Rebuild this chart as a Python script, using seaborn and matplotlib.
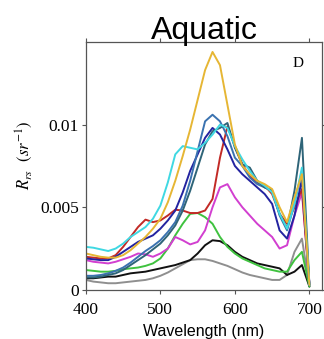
import matplotlib
matplotlib.use("Agg")
import matplotlib.pyplot as plt
import numpy as np
import pandas as pd
import seaborn as sns

sns.set_style("ticks")
plt.rcParams['font.family'] = ['Liberation Serif', 'DejaVu Serif']
plt.rcParams['mathtext.fontset'] = 'stix'
plt.rcParams['text.color'] = 'black'
plt.rcParams['axes.labelcolor'] = 'black'
plt.rcParams['xtick.labelcolor'] = 'black'
plt.rcParams['ytick.labelcolor'] = 'black'

# wavelengths (nm), every 10 nm
wl = list(range(400, 701, 10))

# Rrs spectra, units of 1e-3 sr^-1
yellow = [2.2, 2.1, 2.0, 1.95, 1.95, 2.1, 2.4, 2.8, 3.2, 3.7, 4.3, 5.3, 6.6, 8.1, 9.7, 11.5,
          13.3, 14.4, 13.6, 11.2, 8.8, 7.5, 7.0, 6.6, 6.4, 6.1, 5.0, 4.1, 5.6, 7.0, 0.3]
cyan = [2.6, 2.55, 2.45, 2.35, 2.5, 2.8, 3.2, 3.5, 3.8, 4.3, 5.1, 6.5, 8.2, 8.7, 8.6, 8.5,
        8.9, 9.4, 10.0, 9.8, 8.7, 7.9, 7.2, 6.6, 6.3, 5.9, 4.6, 3.7, 5.2, 7.4, 0.3]
steel = [0.85, 0.85, 0.9, 1.0, 1.15, 1.35, 1.65, 2.0, 2.35, 2.65, 3.0, 3.5, 4.1, 5.1, 6.6, 8.4,
         10.2, 10.6, 10.2, 9.3, 8.0, 7.5, 6.8, 6.4, 6.2, 6.0, 4.5, 3.6, 5.2, 7.2, 0.3]
teal = [0.75, 0.75, 0.8, 0.9, 1.0, 1.2, 1.5, 1.8, 2.1, 2.45, 2.8, 3.3, 3.9, 4.8, 6.0, 7.4,
        8.8, 9.6, 9.8, 10.1, 8.6, 7.6, 7.4, 6.6, 6.2, 6.0, 4.6, 3.7, 6.0, 9.2, 0.3]
navy = [1.9, 1.85, 1.8, 1.8, 2.0, 2.3, 2.6, 2.9, 3.1, 3.3, 3.7, 4.2, 4.8, 5.9, 7.2, 8.2,
        9.2, 9.8, 9.4, 8.5, 7.5, 7.0, 6.6, 6.2, 5.8, 5.2, 3.6, 3.1, 4.5, 6.7, 0.3]
red = [2.0, 1.95, 1.9, 1.9, 2.1, 2.6, 3.2, 3.8, 4.25, 4.1, 4.2, 4.5, 4.85, 4.8, 4.65, 4.65,
       4.8, 5.5, 8.0, 9.9, 8.7, 7.6, 6.9, 6.5, 6.3, 5.8, 4.6, 4.0, 5.0, 6.1, 0.3]
magenta = [1.8, 1.7, 1.65, 1.6, 1.7, 1.85, 2.0, 2.2, 2.15, 2.0, 2.2, 2.5, 3.2, 3.0, 2.75, 2.9,
           3.6, 5.0, 6.2, 6.4, 5.6, 5.0, 4.5, 4.0, 3.6, 3.2, 2.5, 2.7, 4.5, 5.9, 0.4]
green = [1.2, 1.15, 1.1, 1.1, 1.15, 1.25, 1.3, 1.35, 1.45, 1.6, 1.9, 2.5, 3.3, 4.0, 4.6, 4.65,
         4.4, 4.0, 3.2, 2.6, 2.2, 1.9, 1.7, 1.5, 1.3, 1.2, 1.1, 1.1, 1.8, 2.3, 0.2]
black = [0.7, 0.7, 0.75, 0.8, 0.8, 0.9, 1.0, 1.05, 1.1, 1.2, 1.3, 1.4, 1.5, 1.65, 1.8, 2.2,
         2.7, 3.0, 2.95, 2.7, 2.3, 2.0, 1.8, 1.6, 1.5, 1.4, 1.3, 0.9, 1.1, 1.5, 0.2]
gray = [0.6, 0.5, 0.45, 0.4, 0.4, 0.45, 0.5, 0.55, 0.6, 0.7, 0.85, 1.05, 1.3, 1.55, 1.8, 1.85,
        1.85, 1.75, 1.6, 1.45, 1.25, 1.05, 0.9, 0.8, 0.7, 0.6, 0.6, 0.9, 2.3, 3.1, 0.2]

spectra = {"gray": gray, "black": black, "green": green, "magenta": magenta, "red": red,
           "navy": navy, "steel": steel, "teal": teal, "cyan": cyan, "yellow": yellow}
colors = {"gray": "#8f8f8f", "black": "#111111", "green": "#3fc23f", "magenta": "#d23fd0",
          "red": "#c22a26", "navy": "#2323a0", "steel": "#3a72b0", "teal": "#2e6478",
          "cyan": "#3fd8e2", "yellow": "#e6b634"}

rows = []
for name, vals in spectra.items():
    for w, v in zip(wl, vals):
        rows.append({"wl": w, "rrs": v * 1e-3, "station": name})
df = pd.DataFrame(rows)

fig = plt.figure(figsize=(3.24, 3.39), dpi=100)
ax = fig.add_axes([0.265, 0.145, 0.729, 0.731])

sns.lineplot(data=df, x="wl", y="rrs", hue="station", palette=colors,
             linewidth=1.4, legend=False, ax=ax)

ax.set_xlim(400, 717)
ax.set_ylim(0, 0.015)
ax.set_xticks([400, 500, 600, 700])
ax.set_yticks([0, 0.005, 0.01])
ax.set_yticklabels(["0", "0.005", "0.01"])
ax.tick_params(direction="out", length=3, width=0.8, color="#555555",
               top=True, right=True, labelsize=12.5, pad=2)
ax.tick_params(axis="x", pad=6)

for s in ax.spines.values():
    s.set_color("#555555")
    s.set_linewidth(0.9)

ax.set_xlabel("Wavelength (nm)", family="Liberation Sans", fontsize=11.5, labelpad=4)
ax.set_ylabel(r"$R_{rs}$  $(sr^{-1})$", fontsize=12)
ax.yaxis.set_label_coords(-0.215, 0.545)
ax.set_title("Aquatic", family="Liberation Sans", fontsize=23, pad=2)
ax.text(0.90, 0.915, "D", transform=ax.transAxes, fontsize=11, ha="center", va="center")

plt.savefig("out.png", dpi=100)
